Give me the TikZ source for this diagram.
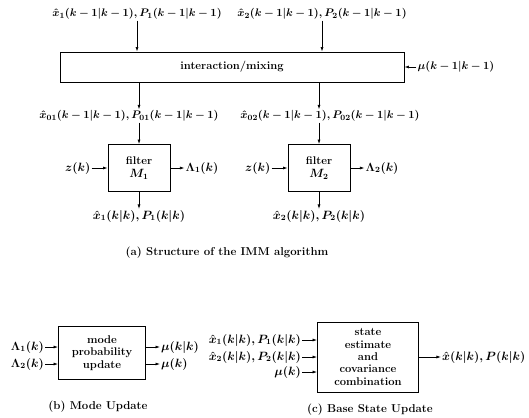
\documentclass[tikz,border=0pt]{standalone}
\usepackage{amsmath,amssymb}
\usepackage{tikz}
\usetikzlibrary{arrows.meta,positioning}
\newcommand{\mathsz}{\fontsize{11.8}{13.5}\selectfont}
\newcommand{\longsz}{\fontsize{11.2}{13}\selectfont\medmuskip=3.5mu}

\begin{document}
\begin{tikzpicture}[
  x=1pt, y=-1pt,
  node distance=14pt and 14pt,
  every node/.style={font=\fontsize{11.2}{12.6}\selectfont\bfseries\boldmath},
  box/.style={draw, line width=0.9pt, align=center, inner sep=2pt},
  lbl/.style={inner sep=1pt, font=\mathsz\bfseries\boldmath},
  longlbl/.style={inner sep=1pt, font=\longsz\bfseries\boldmath},
  arrow/.style={-{Latex[length=4.5pt,width=3pt]}, line width=0.7pt}
]
\useasboundingbox (0,0) rectangle (529,417);

% (a) structure of the IMM algorithm
\node[box, minimum width=344, minimum height=30] (mix) at (232,67) {interaction/mixing};
\node[longlbl] (prev1) at (137,14) {$\hat x_1(k-1|k-1), P_1(k-1|k-1)$};
\node[longlbl] (prev2) at (322,14) {$\hat x_2(k-1|k-1), P_2(k-1|k-1)$};
\node[longlbl, right=12pt of mix] (muprev) {$\mu(k-1|k-1)$};

\node[box, minimum width=62, minimum height=47] (filt1) at (139,168) {filter\\{\mathsz$M_1$}};
\node[box, minimum width=62, minimum height=47] (filt2) at (319,168) {filter\\{\mathsz$M_2$}};
\node[longlbl] (mixed1) at (129,116) {$\hat x_{01}(k-1|k-1), P_{01}(k-1|k-1)$};
\node[longlbl] (mixed2) at (330,116) {$\hat x_{02}(k-1|k-1), P_{02}(k-1|k-1)$};

\node[lbl, left=16pt of filt1] (meas1) {$z(k)$};
\node[lbl, left=16pt of filt2] (meas2) {$z(k)$};
\node[lbl, right=14pt of filt1] (lik1) {$\Lambda_1(k)$};
\node[lbl, right=14pt of filt2] (lik2) {$\Lambda_2(k)$};
\node[lbl, below=17pt of filt1] (est1) {$\hat x_1(k|k), P_1(k|k)$};
\node[lbl, below=17pt of filt2] (est2) {$\hat x_2(k|k), P_2(k|k)$};
\node[lbl, font=\fontsize{11.4}{12.6}\selectfont\bfseries] (capa) at (227,253) {(a) Structure of the IMM algorithm};

\draw[arrow] (prev1.south) -- (prev1.south |- mix.north);
\draw[arrow] (prev2.south) -- (prev2.south |- mix.north);
\draw[arrow] (muprev) -- (mix);
\draw[arrow] (mix.south -| filt1) -- (mixed1.north -| filt1);
\draw[arrow] (mix.south -| filt2) -- (mixed2.north -| filt2);
\draw[arrow] (mixed1.south -| filt1) -- (filt1);
\draw[arrow] (mixed2.south -| filt2) -- (filt2);
\draw[arrow] (meas1) -- (filt1);
\draw[arrow] (meas2) -- (filt2);
\draw[arrow] (filt1) -- (lik1);
\draw[arrow] (filt2) -- (lik2);
\draw[arrow] (filt1) -- (est1);
\draw[arrow] (filt2) -- (est2);

% (b) mode update
\node[box, minimum width=87, minimum height=53] (mode) at (102,353) {mode\\probability\\update};
\node[lbl, anchor=east] (likin1) at (45,347) {$\Lambda_1(k)$};
\node[lbl, anchor=east] (likin2) at (45,364) {$\Lambda_2(k)$};
\node[lbl, anchor=west] (muout1) at (160,347) {$\mu(k|k)$};
\node[lbl, anchor=west] (muout2) at (160,364) {$\mu(k)$};
\node[lbl, font=\fontsize{11.4}{12.6}\selectfont\bfseries] (capb) at (98,407) {(b) Mode Update};

\draw[arrow] (likin1) -- (likin1 -| mode.west);
\draw[arrow] (likin2) -- (likin2 -| mode.west);
\draw[arrow] (muout1 -| mode.east) -- (muout1);
\draw[arrow] (muout2 -| mode.east) -- (muout2);

% (c) base state update
\node[box, minimum width=101, minimum height=70, font=\fontsize{11.2}{12.3}\selectfont\bfseries] (comb) at (368,357) {state\\estimate\\and\\covariance\\combination};
\node[lbl, anchor=east] (estin1) at (302,340) {$\hat x_1(k|k), P_1(k|k)$};
\node[lbl, anchor=east] (estin2) at (302,357) {$\hat x_2(k|k), P_2(k|k)$};
\node[lbl, anchor=east] (muin) at (302,372) {$\mu(k)$};
\node[lbl, right=22pt of comb] (final) {$\hat x(k|k), P(k|k)$};
\node[lbl, font=\fontsize{11.4}{12.6}\selectfont\bfseries] (capc) at (370,410) {(c) Base State Update};

\draw[arrow] (estin1) -- (estin1 -| comb.west);
\draw[arrow] (estin2) -- (estin2 -| comb.west);
\draw[arrow] (muin) -- (muin -| comb.west);
\draw[arrow] (comb) -- (final);
\end{tikzpicture}
\end{document}
